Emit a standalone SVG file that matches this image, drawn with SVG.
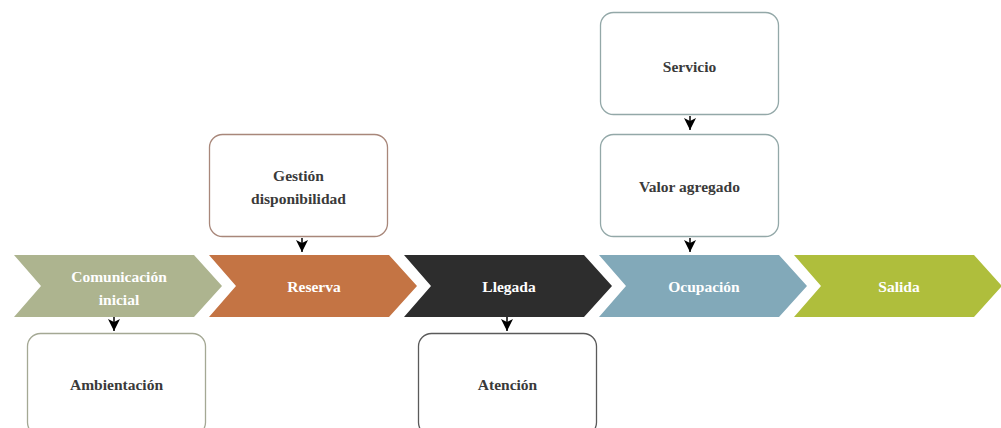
<svg xmlns="http://www.w3.org/2000/svg" width="1001" height="428" viewBox="0 0 1001 428">
<style>
.lbl{font-family:"Liberation Serif","DejaVu Serif",serif;font-weight:bold;font-size:15.5px;text-anchor:middle}
.w{fill:#ffffff}
.d{fill:#3a3a3a}
.box{fill:#ffffff;stroke-width:1.3}
.con{stroke:#000;stroke-width:1.5;fill:none;marker-end:url(#ah)}
</style>
<defs>
<marker id="ah" viewBox="0 0 12 12" refX="12" refY="6" markerWidth="12" markerHeight="12" markerUnits="userSpaceOnUse" orient="auto">
<path d="M0,0 L12,6 L0,12 L3,6 Z" fill="#000"/>
</marker>
</defs>
<rect width="1001" height="428" fill="#ffffff"/>
<g id="connectors">
<line class="con" x1="302" y1="238" x2="302" y2="252"/>
<line class="con" x1="690" y1="116" x2="690" y2="130"/>
<line class="con" x1="690" y1="238" x2="690" y2="252"/>
<line class="con" x1="114" y1="317" x2="114" y2="331"/>
<line class="con" x1="507" y1="317" x2="507" y2="331"/>
</g>
<g id="comunicacion">
<polygon points="14,255 194,255 222,286 194,317 14,317 41,286" fill="#adb48f"/>
<text class="lbl w" x="119" y="282">Comunicación</text>
<text class="lbl w" x="119" y="305">inicial</text>
</g>
<g id="reserva">
<polygon points="209,255 389,255 417,286 389,317 209,317 236,286" fill="#c47444"/>
<text class="lbl w" x="314" y="292">Reserva</text>
</g>
<g id="llegada">
<polygon points="404,255 584,255 612,286 584,317 404,317 431,286" fill="#2d2d2d"/>
<text class="lbl w" x="509" y="292">Llegada</text>
</g>
<g id="ocupacion">
<polygon points="599,255 779,255 807,286 779,317 599,317 626,286" fill="#82a9b9"/>
<text class="lbl w" x="704" y="292">Ocupación</text>
</g>
<g id="salida">
<polygon points="794,255 974,255 1002,286 974,317 794,317 821,286" fill="#afbe3c"/>
<text class="lbl w" x="899" y="292">Salida</text>
</g>
<g id="gestion">
<rect class="box" x="209.5" y="134.5" width="178" height="102" rx="13" stroke="#a8877a"/>
<text class="lbl d" x="298.5" y="181">Gestión</text>
<text class="lbl d" x="298.5" y="204">disponibilidad</text>
</g>
<g id="servicio">
<rect class="box" x="600.5" y="12.5" width="178" height="102" rx="13" stroke="#93a8a8"/>
<text class="lbl d" x="689.5" y="72">Servicio</text>
</g>
<g id="valor">
<rect class="box" x="600.5" y="134.5" width="178" height="102" rx="13" stroke="#93a8a8"/>
<text class="lbl d" x="689.5" y="192">Valor agregado</text>
</g>
<g id="ambientacion">
<rect class="box" x="27.5" y="333.5" width="178" height="102" rx="13" stroke="#a4a894"/>
<text class="lbl d" x="116.5" y="390">Ambientación</text>
</g>
<g id="atencion">
<rect class="box" x="418.5" y="333.5" width="178" height="102" rx="13" stroke="#5a5a5a"/>
<text class="lbl d" x="507.5" y="390">Atención</text>
</g>
</svg>
